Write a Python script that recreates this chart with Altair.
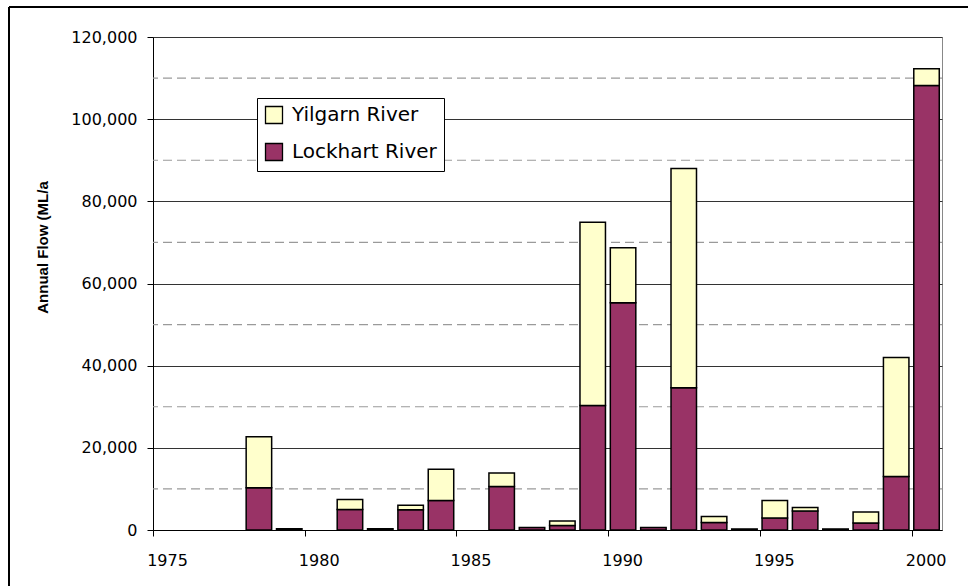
import altair as alt
import pandas as pd

# Annual flow (ML/a) by year for the two rivers
years = [1978, 1979, 1981, 1982, 1983, 1984, 1986, 1987, 1988, 1989, 1990,
         1991, 1992, 1993, 1994, 1995, 1996, 1997, 1998, 1999, 2000]
lockhart = [10300, 300, 5000, 300, 4900, 7200, 10600, 600, 1100, 30300, 55300,
            600, 34600, 1800, 250, 2900, 4600, 250, 1700, 13000, 108200]
yilgarn = [12400, 0, 2400, 0, 1100, 7600, 3300, 0, 1100, 44600, 13400,
           0, 53400, 1500, 0, 4300, 900, 0, 2700, 29000, 4100]

series = ["Yilgarn River", "Lockhart River"]
colors = ["#FFFFCC", "#993366"]

y_ticks = [0, 20000, 40000, 60000, 80000, 100000, 120000]
minor_grid = [10000, 30000, 50000, 70000, 90000, 110000]
x_ticks = [1975, 1980, 1985, 1990, 1995, 2000]

# Stacked segments: Lockhart at the base, Yilgarn on top
rows = []
for yr, lo, yi in zip(years, lockhart, yilgarn):
    rows.append({"year": yr, "river": "Lockhart River", "base": 0, "top": lo, "order": 0})
    if yi > 0:
        rows.append({"year": yr, "river": "Yilgarn River", "base": lo, "top": lo + yi, "order": 1})
bars_df = pd.DataFrame(rows)
grid_df = pd.DataFrame({"v": minor_grid})

W, H = 789, 493

x_scale = alt.Scale(domain=[1975, 2001], nice=False, zero=False)
y_scale = alt.Scale(domain=[0, 120000], nice=False)

y_axis = alt.Axis(
    values=y_ticks, format=",.0f", grid=True, gridColor="#333333",
    gridWidth=1, tickSize=6, tickColor="black", domainColor="black",
    labelFont="DejaVu Sans", labelFontSize=16, labelColor="black",
    labelPadding=10,
    titleFont="Liberation Sans",
    titleFontSize=15, titleFontWeight="bold", titleColor="black",
    titleAngle=270, titleAlign="center", titleBaseline="middle",
    titleX=-111, titleY=210,
)

x_axis = alt.Axis(
    values=x_ticks, format="d", title=None, grid=False,
    tickSize=6, tickColor="black", domainColor="black",
    labelFont="DejaVu Sans", labelFontSize=16, labelColor="black",
    labelPadding=16, labelOffset=14, labelFlush=False,
    labelOverlap=False, labelBaseline="top",
)

# Dashed intermediate gridlines
minor = alt.Chart(grid_df).mark_rule(
    color="#9a9a9a", strokeWidth=1.2, strokeDash=[9, 5]
).encode(
    y=alt.Y("v:Q", scale=y_scale, axis=y_axis, title="Annual Flow (ML/a"),
)

bars = alt.Chart(bars_df).transform_calculate(
    x0="datum.year + 0.07",
    x1="datum.year + 0.91",
).mark_bar(stroke="black", strokeWidth=1.5, opacity=1).encode(
    x=alt.X("x0:Q", scale=x_scale, axis=x_axis),
    x2="x1:Q",
    y=alt.Y("top:Q", scale=y_scale, axis=y_axis, title="Annual Flow (ML/a"),
    y2="base:Q",
    fill=alt.Fill(
        "river:N",
        scale=alt.Scale(domain=series, range=colors),
        legend=alt.Legend(
            title=None, orient="none", legendX=104, legendY=61,
            direction="vertical", symbolType="square", symbolSize=289,
            symbolStrokeColor="black", symbolStrokeWidth=1.3,
            symbolOpacity=1, labelFont="DejaVu Sans", labelFontSize=20,
            labelColor="black", labelOffset=8, rowPadding=13, padding=7,
            strokeColor="black", fillColor="white",
        ),
    ),
    order=alt.Order("order:Q"),
)

# Outer frame edges of the chart
frame_top = alt.Chart(grid_df).mark_rule(color="black", strokeWidth=1.5).encode(
    x=alt.value(-144), x2=alt.value(830), y=alt.value(-30)
)
frame_left = alt.Chart(grid_df).mark_rule(color="black", strokeWidth=1.5).encode(
    x=alt.value(-144), y=alt.value(-30), y2=alt.value(560)
)

chart = alt.layer(minor, bars, frame_top, frame_left).properties(
    width=W, height=H,
    autosize=alt.AutoSizeParams(type="none"),
    padding={"left": 153, "top": 37, "right": 26, "bottom": 56},
    background="white",
).configure_view(stroke="#888888", strokeWidth=1)

chart.save("out.html", embed_options={"renderer": "svg", "actions": False})
